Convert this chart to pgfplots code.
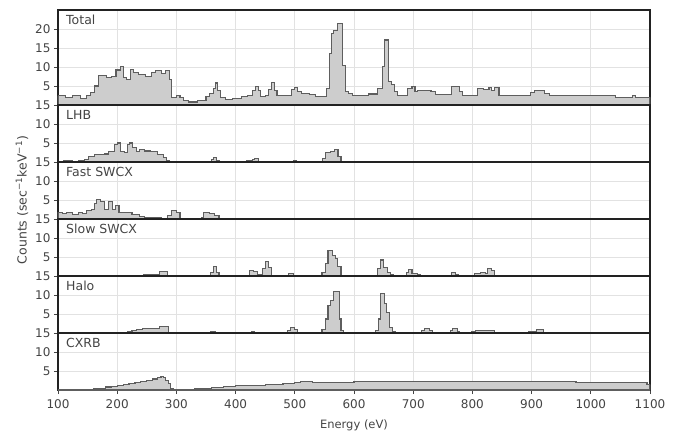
\documentclass[border=0pt]{standalone}
\usepackage{fontspec}
\setmainfont{DejaVu Sans}
\usepackage{pgfplots}
\pgfplotsset{compat=1.18}
\usetikzlibrary{calc}
\definecolor{histfill}{HTML}{CDCDCD}
\definecolor{histedge}{HTML}{5E5E5E}
\definecolor{gridc}{HTML}{E2E2E2}
\definecolor{txt}{HTML}{444444}
\definecolor{frame}{HTML}{222222}

\pgfplotsset{
  layers/grid below/.define layer set={axis background,axis grid,pre main,main,axis ticks,axis lines,axis tick labels,axis descriptions,axis foreground}{},
  panel/.style={set layers=grid below, scale only axis,
    width=592pt, height=57pt,
    xmin=100, xmax=1100, ymin=0, ymax=15,
    ytick={5,10,15}, xtick={100,200,...,1100},
    grid=major, grid style={draw=gridc, line width=0.8pt},
    axis line style={draw=frame, line width=1.4pt},
    tick align=outside, tick pos=left, major tick length=4pt,
    tick style={draw=txt, line width=0.7pt},
    tick label style={font=\fontsize{12}{14}\selectfont, text=txt},
    xticklabel style={yshift=-2pt},
    label style={font=\fontsize{11.5}{14}\selectfont, text=txt},
    xlabel style={yshift=-4pt},
    /pgf/number format/assume math mode=true,
    /pgf/number format/1000 sep={},
  },
  inner/.style={xticklabels={}, xtick style={draw=none}},
  hist/.style={const plot mark left, fill=histfill, draw=histedge, line width=1.1pt, mark=none},
}
\tikzset{
  lab/.style={anchor=north west, inner sep=0pt, xshift=8pt, yshift=-5pt,
    font=\fontsize{12.5}{14}\selectfont, text=txt},
}

\begin{document}
\begin{tikzpicture}
% Total
\begin{axis}[panel, inner, name=p1, height=95pt, ymax=25, ytick={5,10,15,20}]
\addplot[hist] coordinates {(100,2.4)(112,2.0)(125,2.4)(138,1.8)(148,2.6)(155,3.3)(162,5.0)(168,7.7)(182,7.2)(190,7.6)(198,9.2)(205,10.2)(210,7.3)(215,6.8)(222,9.3)(228,8.6)(236,8.0)(248,7.6)(258,8.6)(265,9.0)(275,8.4)(282,9.0)(288,6.6)(292,2.0)(300,2.6)(306,2.0)(312,1.2)(320,0.8)(335,1.1)(350,2.2)(356,3.1)(362,4.4)(366,5.8)(370,3.8)(375,2.0)(383,1.5)(395,1.8)(410,2.2)(420,2.6)(428,3.8)(434,4.8)(438,3.8)(442,2.2)(450,2.6)(456,4.0)(460,6.0)(465,3.8)(470,2.6)(485,2.4)(495,4.0)(500,4.6)(505,3.6)(512,3.1)(525,2.7)(535,2.3)(548,2.2)(553,4.4)(558,13.6)(562,18.9)(566,19.7)(572,21.5)(580,10.5)(585,3.5)(590,3.0)(598,2.5)(625,2.9)(640,4.4)(648,10.1)(652,17.1)(658,6.1)(663,5.3)(668,3.5)(673,2.6)(690,4.4)(698,4.8)(703,3.5)(708,3.7)(718,3.9)(730,3.5)(738,2.8)(765,4.8)(778,3.5)(783,2.6)(808,4.4)(818,4.1)(828,4.6)(832,3.7)(838,4.6)(845,2.6)(898,3.2)(905,3.8)(922,3.0)(930,2.4)(1042,2.0)(1070,2.4)(1075,2.0)(1100,2.0)} \closedcycle;
\node[lab] at (rel axis cs:0,1) {Total};
\end{axis}
% LHB
\begin{axis}[panel, inner, name=p2, at={(p1.south west)}, anchor=north west]
\addplot[hist] coordinates {(100,0.2)(110,0.35)(125,0.2)(135,0.35)(145,0.6)(152,1.5)(162,1.9)(178,2.1)(186,2.8)(195,4.6)(200,5.0)(206,2.8)(212,2.4)(217,4.6)(221,5.0)(226,3.7)(232,2.8)(238,3.2)(246,2.9)(256,2.8)(268,1.9)(278,1.2)(284,0.3)(288,0)(360,0.6)(363,1.2)(368,0.3)(372,0)(418,0.3)(428,0.6)(432,0.9)(438,0)(498,0.3)(503,0)(547,1.0)(552,2.4)(560,2.8)(567,3.3)(573,1.5)(578,0)(1100,0)} \closedcycle;
\node[lab] at (rel axis cs:0,1) {LHB};
\end{axis}
% Fast SWCX
\begin{axis}[panel, inner, name=p3, at={(p2.south west)}, anchor=north west]
\addplot[hist] coordinates {(100,1.8)(108,1.4)(115,1.6)(125,1.3)(135,1.6)(142,1.4)(148,2.2)(157,2.6)(161,4.0)(165,5.2)(172,4.7)(178,2.6)(186,4.5)(192,2.4)(197,3.6)(203,1.8)(212,1.6)(225,1.1)(238,0.7)(246,0.3)(275,0.2)(285,1.0)(292,2.2)(300,1.6)(306,0.2)(312,0.2)(342,0.4)(346,1.8)(356,1.4)(364,0.9)(372,0.2)(376,0)(1100,0)} \closedcycle;
\node[lab] at (rel axis cs:0,1) {Fast SWCX};
\end{axis}
% Slow SWCX
\begin{axis}[panel, inner, name=p4, at={(p3.south west)}, anchor=north west]
\addplot[hist] coordinates {(100,0)(245,0.3)(262,0.5)(272,1.2)(285,0)(358,0.9)(362,2.4)(368,0.9)(372,0)(424,1.5)(430,1.2)(437,0.3)(446,2.0)(450,3.8)(456,2.2)(460,0)(490,0.6)(498,0.2)(502,0)(546,1.0)(552,3.3)(556,6.6)(563,5.5)(568,4.6)(572,2.4)(578,0)(640,2.0)(645,4.2)(650,2.2)(656,1.0)(662,0.3)(666,0)(688,1.0)(692,1.8)(698,0.6)(708,0.3)(712,0)(764,0.9)(772,0.3)(776,0)(804,0.6)(814,0.9)(822,0.7)(825,2.0)(832,1.5)(838,0)(1100,0)} \closedcycle;
\node[lab] at (rel axis cs:0,1) {Slow SWCX};
\end{axis}
% Halo
\begin{axis}[panel, inner, name=p5, at={(p4.south west)}, anchor=north west]
\addplot[hist] coordinates {(100,0)(218,0.3)(225,0.6)(233,0.9)(243,1.2)(262,1.3)(272,1.6)(282,1.8)(287,0)(358,0.3)(366,0)(427,0.3)(432,0)(488,0.6)(493,1.5)(500,0.9)(504,0)(546,1.0)(552,3.7)(556,7.3)(561,8.6)(566,11.0)(575,3.7)(578,0.6)(582,0)(637,0.6)(641,3.7)(645,10.4)(651,7.7)(655,5.5)(660,1.5)(665,0.4)(670,0)(685,0.2)(692,0)(714,0.6)(719,1.2)(728,0.6)(732,0)(763,0.6)(767,1.2)(775,0.4)(778,0)(798,0.4)(805,0.7)(830,0.6)(838,0)(895,0.4)(908,0.9)(920,0)(1100,0)} \closedcycle;
\node[lab] at (rel axis cs:0,1) {Halo};
\end{axis}
% CXRB
\begin{axis}[panel, name=p6, at={(p5.south west)}, anchor=north west, xlabel={Energy (eV)}]
\addplot[hist] coordinates {(100,0)(150,0.15)(160,0.3)(170,0.5)(180,0.8)(190,1.0)(200,1.25)(210,1.45)(220,1.65)(230,1.9)(240,2.2)(250,2.5)(260,2.9)(268,3.2)(274,3.6)(278,3.3)(282,2.6)(286,1.6)(290,0.5)(295,0.15)(330,0.3)(345,0.5)(360,0.7)(380,0.9)(400,1.1)(425,1.3)(450,1.5)(480,1.8)(500,2.0)(510,2.2)(520,2.3)(530,2.0)(545,2.0)(600,2.15)(670,2.2)(975,1.9)(1095,1.4)(1100,1.4)} \closedcycle;
\node[lab] at (rel axis cs:0,1) {CXRB};
\end{axis}
\node[rotate=90, font=\fontsize{12.5}{14}\selectfont, text=txt] at ($(p1.north west)!0.5!(p6.south west)+(-36pt,0)$) {Counts (sec\textsuperscript{−1}keV\textsuperscript{−1})};
\path (p1.north west)++(-58pt,10pt) coordinate (bbA);
\path (p6.south east)++(30pt,-46pt) coordinate (bbB);
\path (bbA) rectangle (bbB);
\end{tikzpicture}
\end{document}
